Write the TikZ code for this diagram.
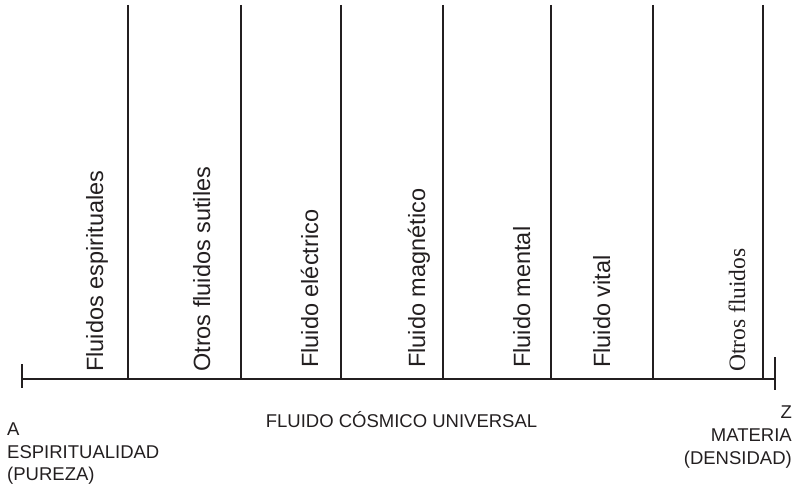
\documentclass[tikz,border=0pt]{standalone}
\usepackage{fontspec}
\setmainfont{Liberation Sans}
\newfontfamily\serifface{Liberation Serif}
\definecolor{ink}{HTML}{231F20}
\begin{document}
\begin{tikzpicture}[x=1pt,y=-1pt,
  rule/.style={draw=ink,line width=2pt},
  vlabel/.style={rotate=90,anchor=base west,inner sep=0pt,text=ink,font=\fontsize{23.5}{28}\selectfont},
  blabel/.style={inner sep=0pt,text=ink,font=\fontsize{18.5}{22}\selectfont}]
\useasboundingbox (0,0) rectangle (798,487);
% axis
\coordinate (L) at (22,379);
\coordinate (R) at (775,379);
\coordinate (Lt) at (22,364);
\coordinate (Lb) at (22,388);
\coordinate (Rt) at (775,357);
\coordinate (Rb) at (775,390);
\draw[rule] (L) -- (R);
\draw[rule] (Lt) -- (Lb);
\draw[rule] (Rt) -- (Rb);
% vertical dividers
\foreach \i/\x in {1/128,2/241,3/341,4/443,5/551,6/653,7/763}{
  \coordinate (t\i) at (\x,5);
  \coordinate (b\i) at (\x,379);
  \draw[rule] (t\i) -- (b\i);
}
% rotated labels
\node[vlabel] (f1) at (103,372) {Fluidos espirituales};
\node[vlabel] (f2) at (210,372) {Otros fluidos sutiles};
\node[vlabel] (f3) at (318,368) {Fluido eléctrico};
\node[vlabel] (f4) at (425,368) {Fluido magnético};
\node[vlabel] (f5) at (530,368) {Fluido mental};
\node[vlabel] (f6) at (610,368) {Fluido vital};
\node[vlabel,font=\serifface\fontsize{23.5}{28}\selectfont] (f7) at (745,372) {Otros fluidos};
% bottom labels
\node[blabel,anchor=base west] (a1) at (7,435) {A};
\node[blabel,anchor=base west] (a2) at (7,458) {ESPIRITUALIDAD};
\node[blabel,anchor=base west] (a3) at (7,480) {(PUREZA)};
\node[blabel,anchor=base] (c1) at (401.5,427) {FLUIDO CÓSMICO UNIVERSAL};
\node[blabel,anchor=base east] (z1) at (792,418) {Z};
\node[blabel,anchor=base east] (z2) at (792,441) {MATERIA};
\node[blabel,anchor=base east] (z3) at (792,464) {(DENSIDAD)};
\end{tikzpicture}
\end{document}
